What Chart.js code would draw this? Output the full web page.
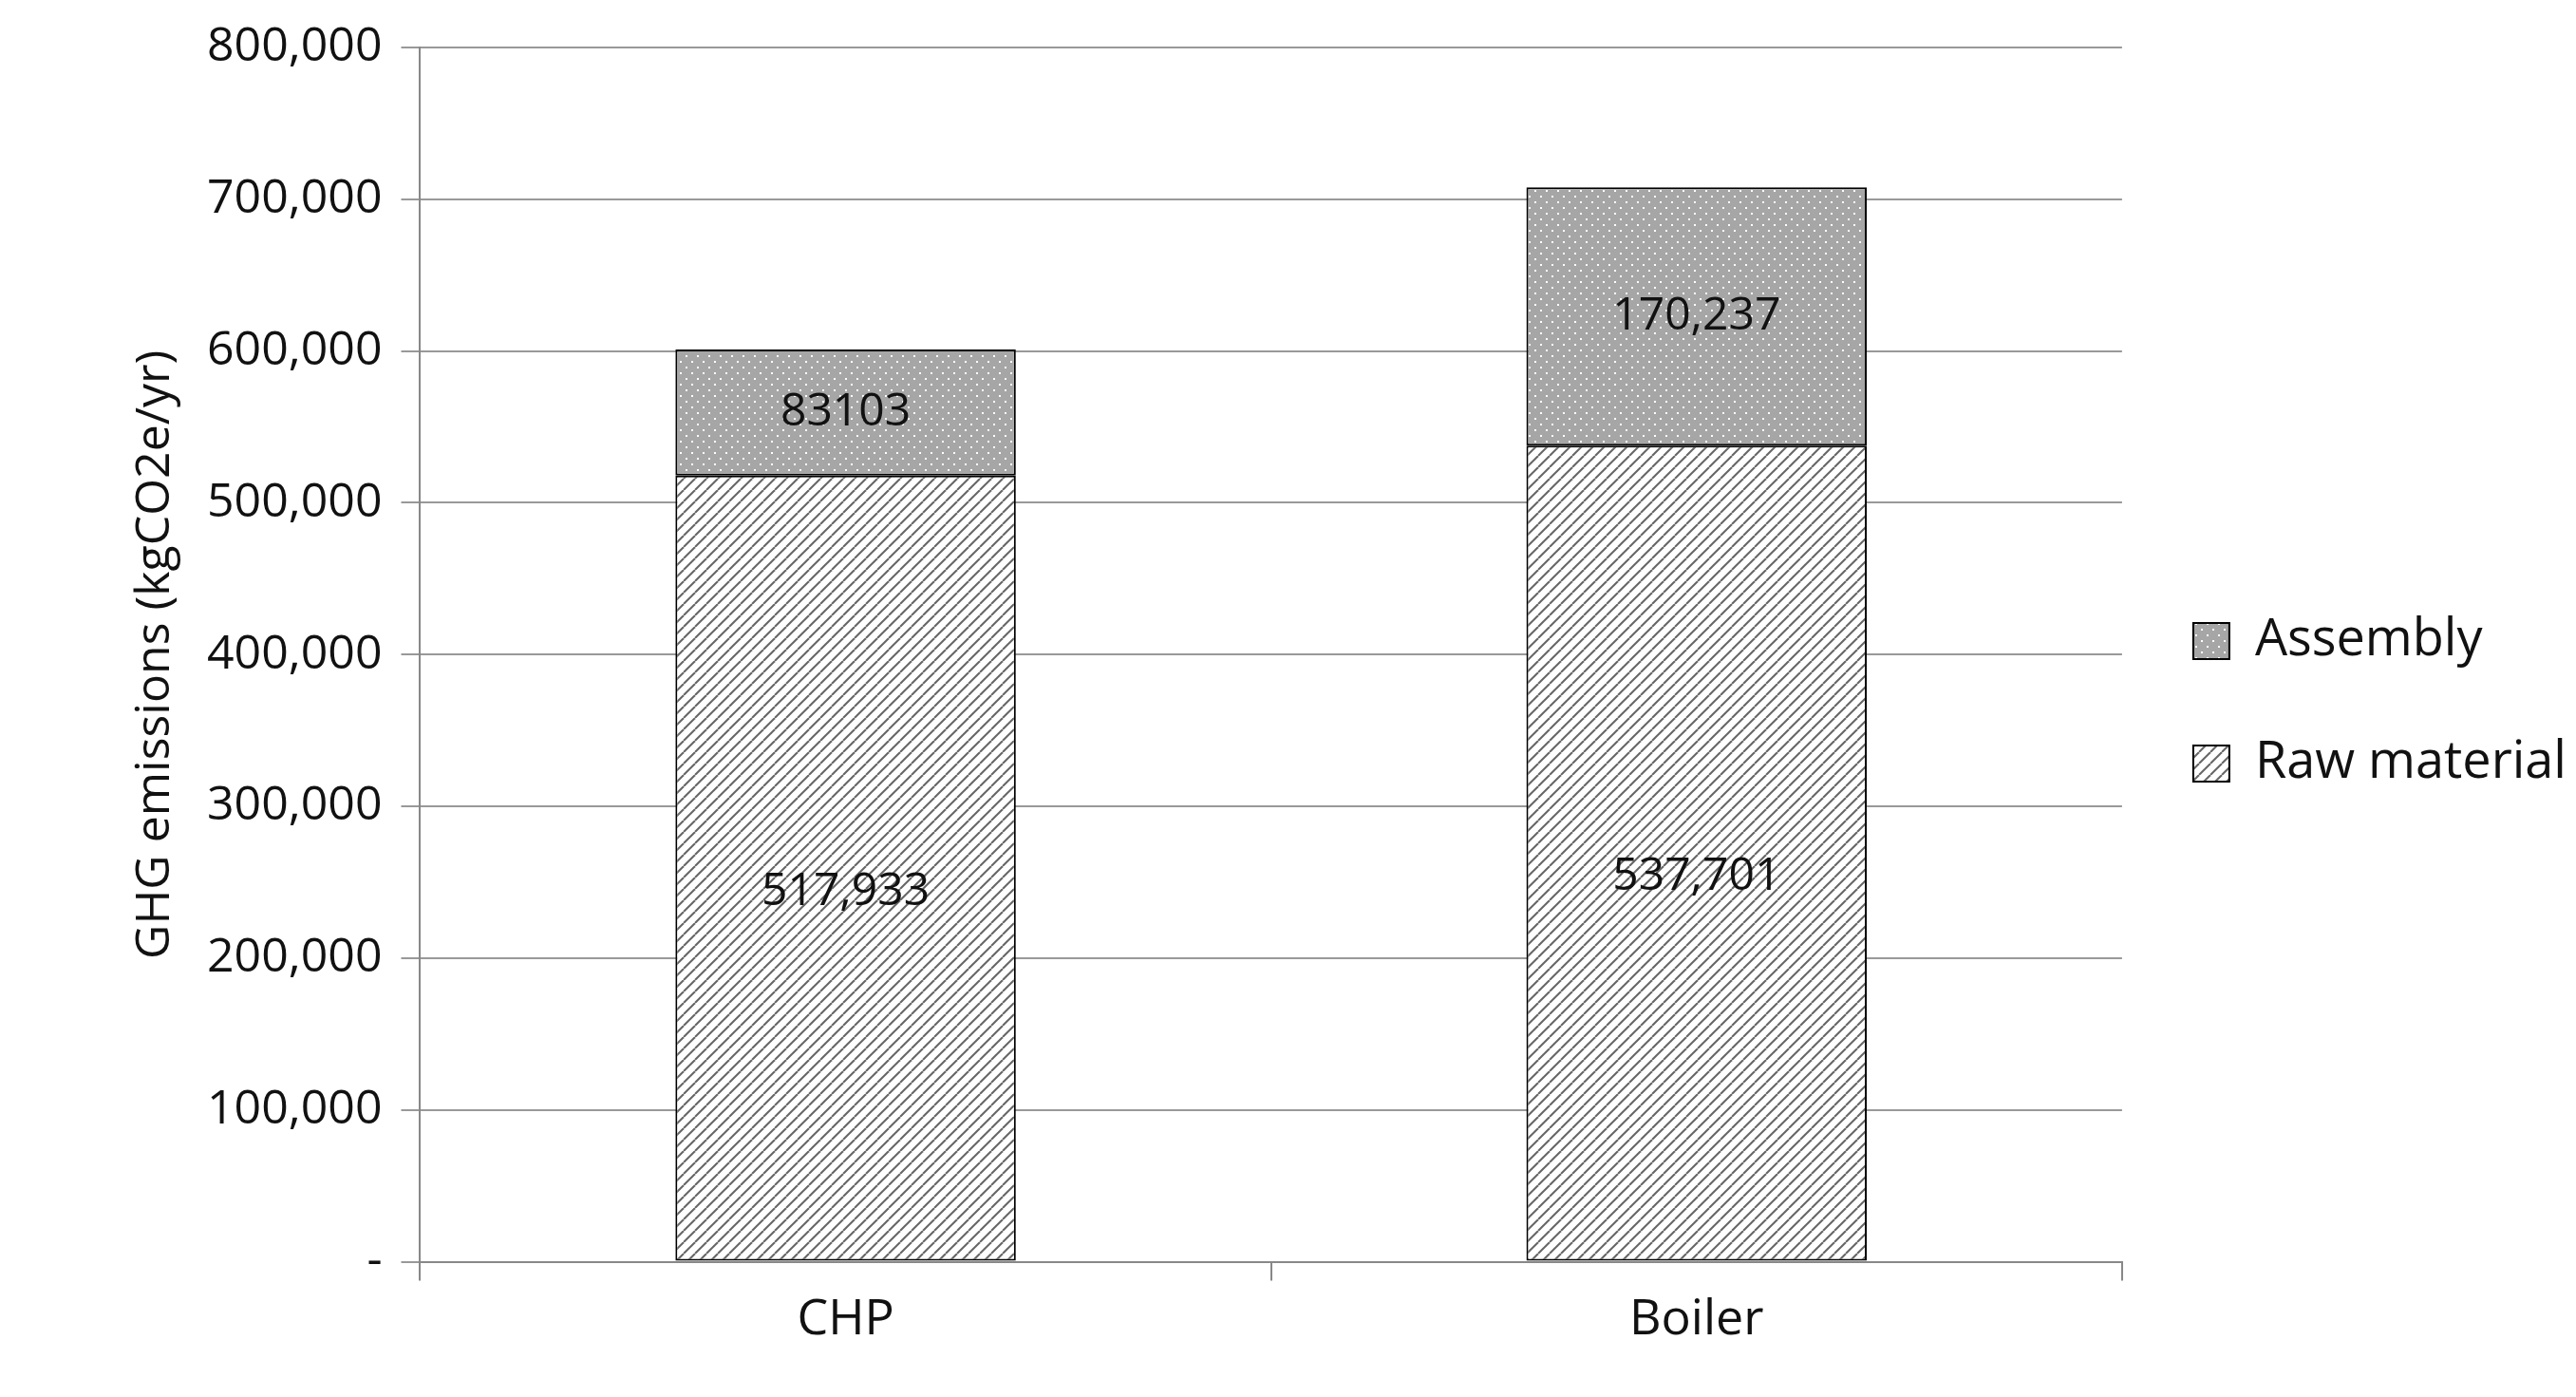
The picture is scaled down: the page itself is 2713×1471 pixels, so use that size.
<!DOCTYPE html>
<html><head><meta charset="utf-8">
<script src="https://cdn.jsdelivr.net/npm/chart.js@4/dist/chart.umd.min.js"></script>
<style>html,body{margin:0;background:#fff}#w{width:2713px;height:1471px}</style>
</head><body><div id="w"><canvas id="c"></canvas></div>
<script>
const categories = ["CHP", "Boiler"];
const rawMaterial = [517933, 537701];
const assembly = [83103, 170237];
const labelsRaw = ["517,933", "537,701"];
const labelsAsm = ["83103", "170,237"];

function hatch(){
  const c=document.createElement('canvas');c.width=c.height=12;const x=c.getContext('2d');
  x.fillStyle='#fff';x.fillRect(0,0,12,12);x.strokeStyle='#666';x.lineWidth=2;
  for(let k=-12;k<=24;k+=12){x.beginPath();x.moveTo(k,12);x.lineTo(k+12,0);x.stroke();}
  return x.createPattern(c,'repeat');
}
function dots(){
  const c=document.createElement('canvas');c.width=c.height=12;const x=c.getContext('2d');
  x.fillStyle='#a6a6a6';x.fillRect(0,0,12,12);x.fillStyle='#fff';
  x.fillRect(2,2,2,2);x.fillRect(8,8,2,2);
  return x.createPattern(c,'repeat');
}
const F="'Open Sans', sans-serif";
const valueLabels={id:'vl',afterDatasetsDraw(ch){
  const x=ch.ctx;x.save();x.font="48px "+F;x.fillStyle='#111';x.textAlign='center';x.textBaseline='middle';
  [labelsRaw,labelsAsm].forEach((L,di)=>{ch.getDatasetMeta(di).data.forEach((b,i)=>{
    x.fillText(L[i],b.x,(b.y+b.base)/2+(di===0?25:0));});});x.restore();}};
new Chart(document.getElementById('c'),{type:'bar',
 data:{labels:categories,datasets:[
  {label:'Raw material',data:rawMaterial,backgroundColor:hatch(),borderColor:'#000',borderWidth:2,borderSkipped:false},
  {label:'Assembly',data:assembly,backgroundColor:dots(),borderColor:'#000',borderWidth:2,borderSkipped:false}]},
 options:{responsive:true,maintainAspectRatio:false,animation:false,
  layout:{padding:{top:48,right:0,bottom:40,left:130}},
  datasets:{bar:{categoryPercentage:1,barPercentage:0.4}},
  plugins:{legend:{position:'right',reverse:true,labels:{font:{size:54,family:F},color:'#111',boxWidth:38,boxHeight:38,padding:75}},tooltip:{enabled:false}},
  scales:{
   x:{stacked:true,grid:{display:true,drawOnChartArea:false,color:'#888',lineWidth:2,tickLength:20,offset:true},border:{color:'#888',width:2},
      ticks:{font:{size:52,family:F},color:'#111',padding:10}},
   y:{stacked:true,min:0,max:800000,grid:{color:'#999',lineWidth:2,tickLength:20},border:{color:'#888',width:2},
      ticks:{stepSize:100000,font:{size:50,family:F},color:'#111',padding:20,
        callback:v=>v===0?'-':v.toLocaleString('en-US')},
      title:{display:true,text:'GHG emissions (kgCO2e/yr)',font:{size:50,family:F},color:'#111'}}}},
 plugins:[valueLabels]});
</script></body></html>
